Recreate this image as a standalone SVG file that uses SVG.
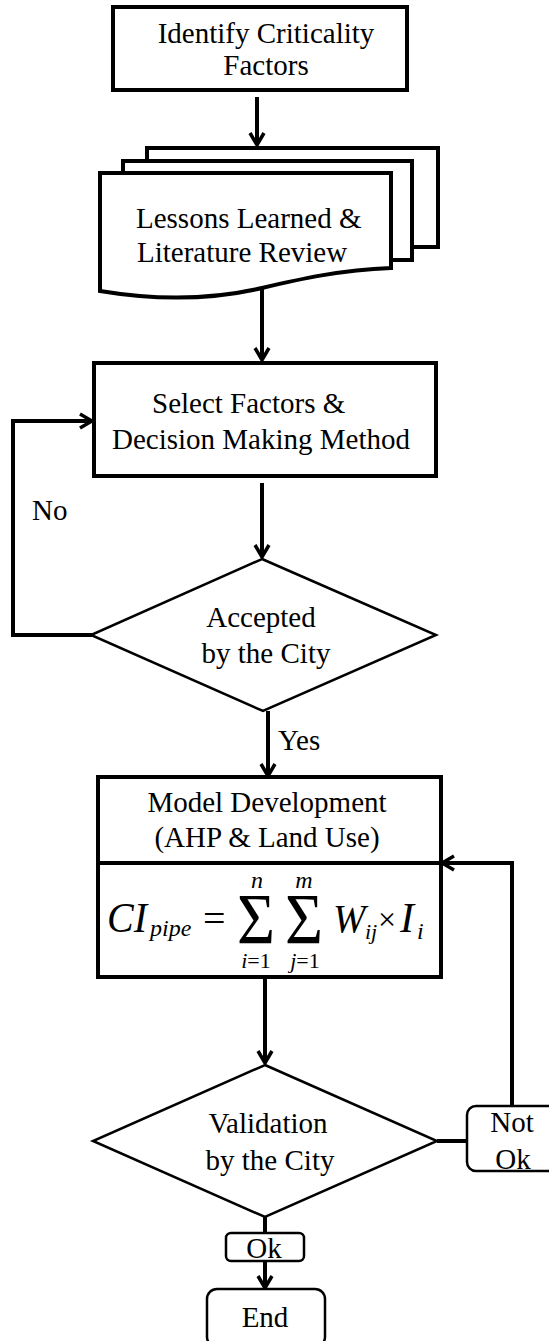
<svg xmlns="http://www.w3.org/2000/svg" width="549" height="1341" viewBox="0 0 549 1341">
<style>
text{font-family:"Liberation Serif","Times New Roman",serif;fill:#000}
.t{font-size:29px}
.c{text-anchor:middle}
.it{font-style:italic}
.box{fill:#fff;stroke:#000;stroke-width:4}
.dia{fill:#fff;stroke:#000;stroke-width:2.5}
.rnd{fill:#fff;stroke:#000;stroke-width:2.5}
.con{fill:none;stroke:#000;stroke-width:4}
</style>
<defs>
<marker id="arr" viewBox="0 0 16 18" refX="14" refY="9" markerWidth="16" markerHeight="18" markerUnits="userSpaceOnUse" orient="auto">
<path d="M2,2 L14,9 L2,16" fill="none" stroke="#000" stroke-width="3.5"/>
</marker>
</defs>
<rect width="549" height="1341" fill="#fff"/>
<g id="connectors">
<path class="con" d="M257,97 L257,145" marker-end="url(#arr)"/>
<path class="con" d="M262,288 L262,360" marker-end="url(#arr)"/>
<path class="con" d="M262,483 L262,557" marker-end="url(#arr)"/>
<path class="con" d="M92,635 L13,635 L13,421 L92,421" marker-end="url(#arr)"/>
<path class="con" d="M268,711 L268,776" marker-end="url(#arr)"/>
<path class="con" d="M265,978 L265,1063" marker-end="url(#arr)"/>
<path class="con" d="M437,1141 L467,1141"/>
<path class="con" d="M512,1106 L512,863 L442,863" marker-end="url(#arr)"/>
<path class="con" d="M265,1217 L265,1233"/>
<path class="con" d="M265,1261 L265,1288" marker-end="url(#arr)"/>
<text class="t" x="32" y="520">No</text>
<text class="t" x="278" y="750">Yes</text>
</g>
<g id="identify">
<rect class="box" x="113" y="7" width="294" height="83"/>
<text class="t c" x="266" y="43">Identify Criticality</text>
<text class="t c" x="266" y="75">Factors</text>
</g>
<g id="lessons">
<rect class="box" x="147" y="148" width="291" height="99"/>
<rect class="box" x="123" y="161" width="289" height="99"/>
<path class="box" d="M100,173 L391,173 L391,268 C340,270 300,279 262,288 C215,299 160,301 100,291 Z"/>
<text class="t" x="136" y="228">Lessons Learned &amp;</text>
<text class="t" x="137" y="262">Literature Review</text>
</g>
<g id="select">
<rect class="box" x="94" y="363" width="342" height="113"/>
<text class="t" x="152" y="413">Select Factors &amp;</text>
<text class="t" x="112" y="449">Decision Making Method</text>
</g>
<g id="accepted">
<polygon class="dia" points="262,559 436,635 263,711 91,635"/>
<text class="t c" x="261" y="627">Accepted</text>
<text class="t c" x="266" y="663">by the City</text>
</g>
<g id="model">
<rect class="box" x="98" y="777" width="343" height="200"/>
<line x1="98" y1="863" x2="441" y2="863" stroke="#000" stroke-width="4"/>
<text class="t c" x="267" y="812">Model Development</text>
<text class="t c" x="267" y="847">(AHP &amp; Land Use)</text>
<text class="it" x="107" y="932" font-size="42" textLength="40" lengthAdjust="spacingAndGlyphs">CI</text>
<text class="it" x="150" y="936" font-size="24">pipe</text>
<text x="203" y="932" font-size="40">=</text>
<text x="237" y="943" font-size="72" textLength="38" lengthAdjust="spacingAndGlyphs">Σ</text>
<text x="285" y="943" font-size="72" textLength="38" lengthAdjust="spacingAndGlyphs">Σ</text>
<text class="it c" x="257" y="888" font-size="24">n</text>
<text class="it c" x="304" y="888" font-size="24">m</text>
<text class="it" x="333" y="932" font-size="39">W</text>
<text class="it" x="365" y="939" font-size="22">ij</text>
<text x="378" y="930" font-size="32">×</text>
<text class="it" x="400" y="932" font-size="42">I</text>
<text class="it" x="417" y="939" font-size="24">i</text>
<text class="c" x="256" y="968" font-size="22"><tspan class="it">i</tspan>=1</text>
<text class="c" x="305" y="968" font-size="22"><tspan class="it">j</tspan>=1</text>
</g>
<g id="validation">
<polygon class="dia" points="265,1065 437,1141 265,1217 93,1141"/>
<text class="t c" x="268" y="1133">Validation</text>
<text class="t c" x="270" y="1170">by the City</text>
</g>
<g id="notok">
<rect class="rnd" x="467" y="1106" width="95" height="65" rx="9"/>
<text class="t c" x="512" y="1132">Not</text>
<text class="t c" x="513" y="1169">Ok</text>
</g>
<g id="ok">
<rect class="rnd" x="226" y="1233" width="78" height="28" rx="5"/>
<text class="t c" x="264" y="1258">Ok</text>
</g>
<g id="end">
<rect class="rnd" x="207" y="1289" width="118" height="58" rx="10"/>
<text class="t c" x="265" y="1327">End</text>
</g>
</svg>
